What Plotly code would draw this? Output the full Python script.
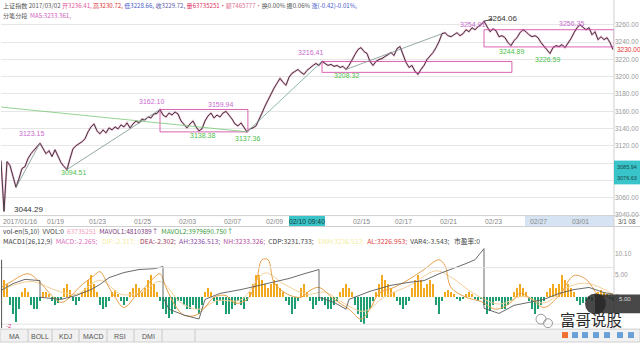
import plotly.graph_objects as go

# ---------------- data ----------------
price = [3103.0, 3044.3, 3101.9, 3097.3, 3084.7, 3072.1, 3082.4, 3093.8, 3096.1, 3105.3,
         3111.0, 3114.5, 3119.0, 3123.2, 3116.8, 3111.0, 3114.5, 3107.6, 3115.6, 3107.6,
         3100.7, 3096.1, 3092.7, 3105.3, 3116.8, 3120.2, 3122.5, 3124.8, 3128.2, 3136.2,
         3142.0, 3145.4, 3137.4, 3134.0, 3138.5, 3135.1, 3140.8, 3138.5, 3142.0, 3139.7,
         3144.3, 3142.0, 3146.6, 3140.8, 3145.4, 3148.8, 3146.6, 3151.1, 3150.0, 3153.4,
         3152.3, 3156.9, 3157.5, 3162.1, 3155.7, 3153.4, 3158.0, 3155.7, 3159.2, 3156.9,
         3148.8, 3144.3, 3140.8, 3145.4, 3148.8, 3142.0, 3137.4, 3139.7, 3148.8, 3154.6,
         3158.0, 3152.3, 3155.7, 3153.4, 3158.0, 3159.9, 3155.7, 3151.1, 3145.4, 3143.1,
         3146.6, 3140.8, 3136.2, 3139.7, 3140.8, 3143.1, 3150.0, 3158.0, 3166.0, 3172.9,
         3180.9, 3186.7, 3192.4, 3198.1, 3193.5, 3190.1, 3199.3, 3203.9, 3206.1, 3208.4,
         3205.0, 3202.7, 3207.3, 3210.7, 3213.0, 3215.3, 3213.0, 3217.6, 3215.3, 3213.0,
         3214.2, 3211.9, 3213.0, 3210.7, 3211.9, 3208.4, 3213.0, 3219.9, 3225.6, 3231.4,
         3233.6, 3229.1, 3226.8, 3217.6, 3213.0, 3217.6, 3219.9, 3221.0, 3223.3, 3225.6,
         3227.9, 3224.5, 3232.5, 3234.8, 3225.6, 3216.5, 3210.7, 3213.0, 3206.1, 3202.7,
         3208.4, 3213.0, 3219.9, 3223.3, 3227.9, 3233.6, 3240.5, 3249.7, 3250.8, 3247.4,
         3246.2, 3248.5, 3250.8, 3247.4, 3249.7, 3254.3, 3252.0, 3256.6, 3254.3, 3257.7,
         3260.0, 3264.1, 3257.7, 3252.0, 3255.4, 3253.1, 3246.2, 3247.4, 3245.1, 3239.4,
         3235.9, 3241.7, 3245.1, 3250.8, 3254.3, 3252.0, 3248.5, 3246.2, 3247.4, 3245.1,
         3239.4, 3234.8, 3230.2, 3226.8, 3233.6, 3235.9, 3234.8, 3237.1, 3233.6, 3238.2,
         3244.0, 3250.8, 3256.6, 3260.0, 3256.6, 3254.3, 3256.6, 3248.5, 3252.0, 3242.8,
         3246.2, 3242.8, 3245.1, 3239.4, 3231.4]
bars = list(range(len(price)))

hist_vals = [2, 4, 3, -2, -4, -6, -3, 1, 2, 1, -2, -3, -3, -1, 1, 1, 0.5, -1, -2, -1.5, -0.5,
             2, 3, 1.5, -1, -2, -1, 1, 2, 4, 5, 3, 1, -2, -3, -2.5, -1, 1, 1.5, 0.5, -1, -2, -1,
             1, 2, 3, 2, 1, 2, 4, 5, 3, 1, -1, -3, -4, -5, -4, -3, -1, -1, -2, -3, -3, -2, -3, -4,
             -2, 1, 2, 1, -1, -2, -1, -2, -4, -4, -3, -2, -1, -2, -3, -1, 1, 3, 5, 5, 4, 3, 2,
             3, 4, 3, 2, 1, -1, -2, -4, -3, -1, 2, 3, 1, -1, -3, -2, -1, -1, -2, -3, -3, -2, -1,
             1, 2, 3, 2, 1, -2, -4, -6, -6.5, -5, -3, -1, 1, 3, 5, 4, 3, 2, 1, -1, -2, -3, -2, -1,
             2, 4, 5, 4, 2, 3, 4, 3, -2, -4, -1, 1, 1.5, 1, 0.5, -0.5, -1, -0.5, 0.5, 1, 0.5, -0.5,
             -1, -0.5, -2, -4, -3.5, -2, -1, -1, -3, -3, -2, -1, 1, 2, 3, 2, 1, -1, -3, -4, -3, -2,
             -1, 1, 2, 3, 2, 3, 5, 4, 3, 2, 1, -1, -2, -1.5, -1, -0.5, -1, 0.5, 1, 1.5, 1, 0.5,
             -0.5, -1]

dif_k = [0, 3, 9, 13, 16, 20, 23, 26, 31, 33, 36, 38, 41, 45, 48, 51, 53, 55, 58, 61, 65, 68,
         71, 75, 78, 82, 85, 87, 89, 91, 95, 100, 103, 106, 111, 116, 120, 123, 126, 131, 136,
         141, 146, 148, 150, 155, 160, 165, 170, 173, 177, 181, 186, 191, 195, 200, 204]
dif_v = [2.1, 3.3, 5.3, 3.3, 0.9, -1.4, -0.2, 2.1, 4.9, 5.8, 2.1, -0.2, -2.6, 0.2, 2.1, 4.4, 5.3,
         2.1, -2.1, -4.4, -4.4, -2.6, -0.2, 0.2, -1.6, -0.7, 3.3, 8.6, 8.6, 3.3, 0.7, -0.2, 1.4,
         2.1, -0.7, -3.0, -5.3, -3.0, 0.7, 2.1, 4.0, 6.3, 8.6, 7.2, 2.1, -0.2, -1.2, -3.0, -1.4,
         0.7, -0.7, -2.6, 0.2, 4.9, 4.0, -0.2, 0.7]

dea_k = [0, 10, 18, 25, 33, 40, 47, 53, 60, 66, 72, 80, 88, 94, 102, 108, 114, 121, 128, 136,
         145, 150, 158, 166, 174, 181, 190, 196, 204]
dea_v = [1.5, 3.5, 1.5, 0.5, 3.8, 0.5, 1.0, 3.5, -1.5, -3.0, -1.0, -0.8, 5.5, 3.0, 0.5, 1.0,
         -1.5, -3.5, 0.0, 2.5, 6.0, 4.5, 0.5, -1.8, 0.0, -1.5, 2.5, 3.0, 0.5]

trk_k = [0, 4, 8, 13, 13, 20, 25, 30, 33, 36, 41, 46, 51, 54, 54, 56, 61, 66, 68, 73, 80, 86,
         91, 96, 101, 106, 106, 111, 115, 116, 123, 130, 136, 141, 146, 150, 155, 158, 161, 161,
         166, 171, 176, 181, 186, 191, 196, 201, 204]
trk_v = [1.4, 3.0, 4.0, 3.7, -0.2, -0.7, 0.2, 1.6, 2.8, 4.4, 5.6, 6.3, 6.5, 7.0, -0.2, -3.0,
         -4.4, -5.3, -0.7, 0.7, 1.6, 2.6, 3.5, 4.2, 5.3, 6.3, -0.2, -1.4, -3.0, -0.7, 1.2, 2.6,
         3.3, 3.7, 5.3, 6.3, 7.7, 8.6, 11.2, -2.8, -4.0, -2.1, -1.4, -0.7, 0.7, 1.6, 2.1, 0.9, 0.5]

date_ticks = [6.3, 18, 32, 47, 62, 77, 91, 120, 134, 149, 164, 179, 193]
date_labels = ["2017/01/16", "01/19", "01/23", "01/25", "02/03", "02/07", "02/09",
               "02/15", "02/17", "02/21", "02/23", "02/27", "03/01"]
price_ticks = [3040, 3060, 3080, 3100, 3120, 3140, 3160, 3180, 3200, 3220, 3240, 3260]
# labels hidden behind the cyan crosshair value box in the reference
price_hidden = [3080, 3100]

pivot_k = [9.0, 10.3, 24, 50.3, 67.3, 73.3, 82.3, 103.3, 115, 157.3, 167.3, 170.3, 182, 190.3]
pivot_p = [3046.9, 3134.0, 3089.3, 3171.8, 3131.7, 3168.3, 3128.2, 3227.9, 3201.6, 3260.0,
           3266.9, 3229.1, 3219.9, 3261.1]
pivot_text = ["3044.29", "3123.15", "3094.51", "3162.10", "3138.38", "3159.94", "3137.36",
              "3216.41", "3208.32", "3254.91", "3264.06", "3244.89", "3226.59", "3256.35"]
pivot_kind = ["ext", "hi", "lo", "hi", "lo", "hi", "lo", "hi", "lo", "hi", "ext", "lo", "lo", "hi"]

# ---------------- geometry helpers ----------------
W, H = 640, 345
ML, MR = 1, 26
PW = W - ML - MR
XMAX = (W - MR - ML) / 3.0


def pxx(x):
    return (x - ML) / PW


def pxy(y):
    return 1 - y / H


FONT = "Liberation Sans, Arial, Noto Sans CJK SC, sans-serif"
CJK = "Noto Sans CJK SC, Liberation Sans, sans-serif"

fig = go.Figure()

# main price line (pink halo + dark line)
fig.add_trace(go.Scatter(x=bars, y=price, mode="lines", xaxis="x", yaxis="y",
                         line=dict(color="rgba(222,90,160,0.45)", width=2.0), hoverinfo="skip"))
fig.add_trace(go.Scatter(x=bars, y=price, mode="lines", xaxis="x", yaxis="y",
                         line=dict(color="#2c2c2c", width=0.9), hoverinfo="skip"))

# lower panel
bar_colors = ["#f2a91e" if v >= 0 else "#1f9e72" for v in hist_vals]
fig.add_trace(go.Bar(x=bars, y=hist_vals, marker=dict(color=bar_colors, line=dict(width=0)),
                     width=0.7, xaxis="x2", yaxis="y2", hoverinfo="skip"))
fig.add_trace(go.Scatter(x=dea_k, y=dea_v, mode="lines", xaxis="x2", yaxis="y2",
                         line=dict(color="#f3cf9a", width=1, shape="spline"), hoverinfo="skip"))
fig.add_trace(go.Scatter(x=dif_k, y=dif_v, mode="lines", xaxis="x2", yaxis="y2",
                         line=dict(color="#e6a04a", width=1, shape="spline"), hoverinfo="skip"))
fig.add_trace(go.Scatter(x=trk_k, y=trk_v, mode="lines", xaxis="x2", yaxis="y2",
                         line=dict(color="#5a5a5a", width=0.9), hoverinfo="skip"))

shapes = []
# rectangles on main chart
for x0, x1, y0, y1 in [(53, 82.3, 3136.2, 3162.1), (107, 170.3, 3205.0, 3217.6),
                       (161, XMAX, 3234.4, 3254.3)]:
    shapes.append(dict(type="rect", xref="x", yref="y", x0=x0, x1=x1, y0=y0, y1=y1,
                       line=dict(color="rgba(210,60,160,0.8)", width=1)))
# trend / segment lines
for (x0, y0, x1, y1, c) in [(0, 3164.9, 82.3, 3136.2, "rgba(120,200,120,0.8)"),
                            (5, 3072.1, 13, 3123.2, "rgba(120,150,140,0.8)"),
                            (22, 3092.7, 53, 3162.1, "rgba(120,150,140,0.8)"),
                            (82, 3136.2, 107, 3217.6, "rgba(110,170,150,0.8)"),
                            (115, 3208.4, 147, 3249.7, "rgba(120,150,140,0.8)"),
                            (161, 3264.1, 163.8, 3266.6, "#444")]:
    shapes.append(dict(type="line", xref="x", yref="y", x0=x0, y0=y0, x1=x1, y1=y1,
                       line=dict(color=c, width=1)))


def hline(y, x0=0, x1=W, color="#cfcfcf", width=1):
    shapes.append(dict(type="line", xref="paper", yref="paper", x0=pxx(x0), x1=pxx(x1),
                       y0=pxy(y), y1=pxy(y), line=dict(color=color, width=width)))


def vline(x, y0=0, y1=H, color="#cfcfcf", width=1):
    shapes.append(dict(type="line", xref="paper", yref="paper", x0=pxx(x), x1=pxx(x),
                       y0=pxy(y0), y1=pxy(y1), line=dict(color=color, width=width)))


def rect(x0, y0, x1, y1, fill, line="rgba(0,0,0,0)", lw=0, layer="above"):
    shapes.append(dict(type="rect", xref="paper", yref="paper", x0=pxx(x0), x1=pxx(x1),
                       y0=pxy(y1), y1=pxy(y0), fillcolor=fill, line=dict(color=line, width=lw),
                       layer=layer))


# date strip
rect(525, 218, 614, 228, "#d5e3f2", layer="below")
hline(217.5)
hline(228.5)
vline(614, 0, 332)
# lower panel grid lines
hline(270, 0, 614, "#e2e2e2")
hline(327, 0, 614, "#e2e2e2")
# left vertical marker in lower panel
vline(1.6, 262, 331, "#555")
# cyan crosshair boxes
rect(289, 218, 325, 228, "#38c4c8")
rect(614, 162, 640, 186, "#38c4c8")
# tabs
rect(0, 332, 640, 345, "#f1f1f1", "#cfcfcf", 1)
for tx in [28, 52, 79, 107, 134, 162, 195]:
    vline(tx, 332, 345, "#c8c8c8")
# watermark overlay
shapes.append(dict(type="circle", xref="paper", yref="paper", x0=pxx(585), x1=pxx(606),
                   y0=pxy(317), y1=pxy(296), fillcolor="rgba(40,40,40,0.85)", line=dict(width=0)))
rect(595, 297, 640, 316, "rgba(40,40,40,0.85)")
for cx, cy, r in [(541, 322, 5), (548, 326, 4.5)]:
    shapes.append(dict(type="circle", xref="paper", yref="paper", x0=pxx(cx - r), x1=pxx(cx + r),
                       y0=pxy(cy + r), y1=pxy(cy - r), line=dict(color="#9a9a9a", width=1)))
for ix, col in [(565, "#f07030"), (575, "#6aa0d8"), (585, "#6aa0d8"), (596, "#6aa0d8"),
                (607, "#6aa0d8"), (620, "#6aa0d8"), (631, "#6aa0d8")]:
    rect(ix - 3, 335, ix + 3, 341, col)

ann = []


def text(x, y, s, color="#333", size=7, anchor="left", font=FONT, bg=None):
    d = dict(xref="paper", yref="paper", x=pxx(x), y=pxy(y), text=s, showarrow=False,
             xanchor=anchor, yanchor="middle", font=dict(family=font, size=size, color=color))
    if bg:
        d["bgcolor"] = bg
    ann.append(d)


def sp(s, c):
    return f"<span style='color:{c}'>{s}</span>"


text(1, 6, "上证指数 2017/03/02 " + sp("开3236.41,", "#e0559a") + " " + sp("高3230.72,", "#e03030")
     + " " + sp("低3228.66,", "#4a5ac8") + " " + sp("收3229.72,", "#5a5aa8") + " "
     + sp("量63735251·", "#e03060") + sp("额7465777·", "#e07090") + "换0.00% 振0.06% "
     + sp("涨(-0.42)-0.01%,", "#4a5ac8"), "#555", 6.1, font=CJK)
text(1, 16, "分笔分段  " + sp("MA5:3233.361,", "#d060c0"), "#555", 6.1, font=CJK)

text(1, 233, "vol-en(5,10)  VVOL:0  " + sp("63735251", "#f0a0b8") + "  " + sp("MAVOL1:4810389↑", "#7a3a7a")
     + "  " + sp("MAVOL2:3979690.750↑", "#3a9a3a"), "#444", 6.6, font=CJK)
text(1, 243, "MACD1(26,12,9)  " + sp("MACD:-2.265;", "#e070c0") + "   " + sp("DIF:-2.317;", "#f4ec9a")
     + "   " + sp("DEA:-2.302;", "#a03a5a") + "  " + sp("AH:3236.513;", "#8a4aa8") + "  "
     + sp("NH:3233.326;", "#b04a9a") + "  CDP:3231.733;   " + sp("ENH:3236.513;", "#f4ec9a") + "  "
     + sp("AL:3226.953;", "#e04040") + "  VAR4:-3.543;   市盈率:0", "#444", 6.8, font=CJK)

# date labels along the strip
for k, t in zip(date_ticks, date_labels):
    ann.append(dict(xref="x", yref="paper", x=k, y=pxy(223), text=t, showarrow=False,
                    xanchor="center", yanchor="middle",
                    font=dict(family=FONT, size=6.8, color="#888")))

# pivot labels on main chart
kind_color = {"hi": "#c86ad0", "lo": "#4cc04c", "ext": "#333"}
for k, p, t, kd in zip(pivot_k, pivot_p, pivot_text, pivot_kind):
    ann.append(dict(xref="x", yref="y", x=k, y=p, text=t, showarrow=False, xanchor="center",
                    yanchor="middle", font=dict(family=FONT, size=7 if kd != "ext" else 8,
                                                color=kind_color[kd])))

# right axis extras
text(615, 50, "3230.00", "#e03030", 6.5)
text(615, 168, "3085.94", "#1a4a4a", 5.5)
text(615, 180, "3076.63", "#1a4a4a", 5.5)
text(307, 223, "02/10 09:40", "#163a3a", 6.8, anchor="center")
text(627, 223, "3/1 08", "#555", 6.3, anchor="center")
text(4, 329, "-2", "#d04080", 6)

# tabs
for cx, t in [(14, "MA"), (40, "BOLL"), (65, "KDJ"), (93, "MACD"), (120, "RSI"), (148, "DMI")]:
    text(cx, 339, t, "#555", 7, anchor="center")

# watermark
text(591, 322, "富哥说股", "#2a2a2a", 15.5, anchor="center", font=CJK)
text(617, 302, "5.00", "#ddd", 6)

fig.update_layout(
    width=W, height=H, margin=dict(l=ML, r=MR, t=0, b=0),
    paper_bgcolor="white", plot_bgcolor="white", showlegend=False,
    shapes=shapes, annotations=ann, bargap=0,
    xaxis=dict(domain=[0, 1], range=[0, XMAX], anchor="y", showgrid=False, zeroline=False,
               showticklabels=False, ticks="", showline=False),
    yaxis=dict(domain=[pxy(217), pxy(18)], range=[3040, 3268.02], side="right",
               tickvals=price_ticks,
               ticktext=["" if v in price_hidden else f"{v:.2f}" for v in price_ticks],
               gridcolor="#e6e6e6", gridwidth=1, zeroline=False, showline=False, ticks="",
               tickfont=dict(family=FONT, size=6.5, color="#999")),
    xaxis2=dict(domain=[0, 1], range=[0, XMAX], anchor="y2", showgrid=False, zeroline=False,
                showticklabels=False, ticks=""),
    yaxis2=dict(domain=[pxy(330), pxy(248)], range=[-7.21, 11.86], side="right",
                tickvals=[0, 5, 10.1], ticktext=["0", "5.00", "10.10"], showgrid=False,
                zeroline=False, showline=False, ticks="",
                tickfont=dict(family=FONT, size=6.5, color="#999")),
)

fig.write_html("out.html")
